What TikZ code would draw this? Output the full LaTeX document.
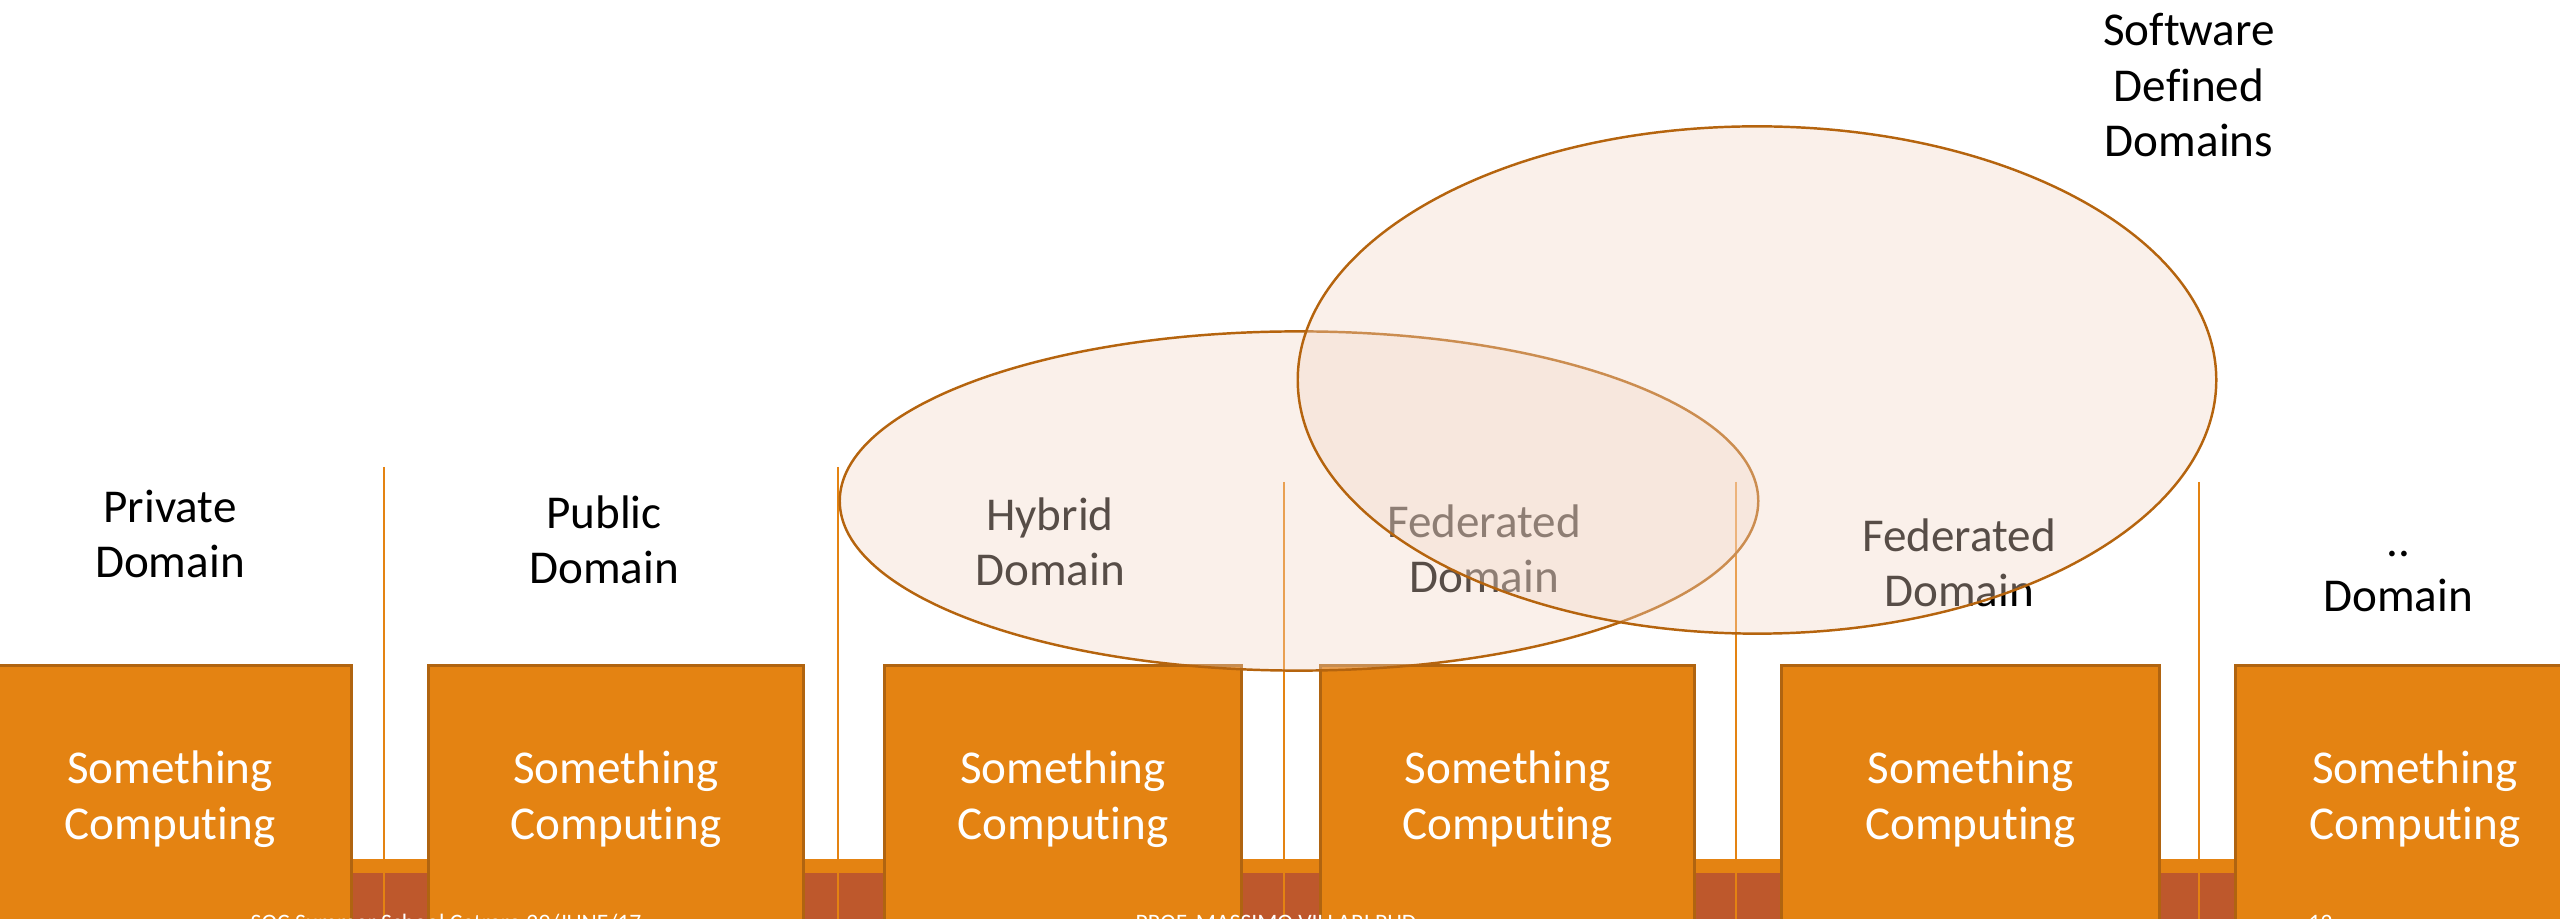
\documentclass[tikz,border=0pt]{standalone}
\usepackage{fontspec}
\setmainfont{Carlito}[RawFeature=-liga]
\usetikzlibrary{shapes.geometric}
\definecolor{boxfill}{RGB}{228,131,18}
\definecolor{boxedge}{RGB}{176,100,16}
\definecolor{bandlow}{RGB}{190,88,44}
\definecolor{ringedge}{RGB}{181,100,14}
\definecolor{ringfill}{RGB}{242,214,198}
\begin{document}
\begin{tikzpicture}[x=0.01cm,y=-0.01cm,
  compbox/.style={draw=boxedge, line width=0.85pt, fill=boxfill, text=white, align=center,
    font=\fontsize{13.4}{15.9}\selectfont, minimum height=2.66cm, inner sep=0pt},
  domlabel/.style={anchor=base, align=center, inner sep=0pt, font=\fontsize{13.4}{15.9}\selectfont},
  divider/.style={draw=boxfill, line width=0.8pt},
  ring/.style={ellipse, draw=ringedge, line width=0.7pt, fill=ringfill, fill opacity=0.36, inner sep=0pt},
  footer/.style={anchor=base west, text=white, inner sep=0pt, font=\fontsize{6.7}{8}\selectfont}]
\useasboundingbox (0,0) rectangle (2560,919);
\clip (0,0) rectangle (2560,919);

% connecting band along the bottom
\fill[bandlow] (0,859) rectangle (2560,919);
\fill[boxfill] (0,859) rectangle (2560,873);

% dividers between the domains
\foreach \i/\x/\t in {1/384/467, 2/838/467, 3/1284/482, 4/1736/482, 5/2199/482} {
  \coordinate (d\i t) at (\x,\t);
  \coordinate (d\i b) at (\x,919);
  \draw[divider] (d\i t) -- (d\i b);
}

% computing blocks
\node[compbox, minimum width=3.62cm] (c1) at (170,799)    {Something\\Computing};
\node[compbox, minimum width=3.74cm] (c2) at (616,799)    {Something\\Computing};
\node[compbox, minimum width=3.56cm] (c3) at (1063,799)   {Something\\Computing};
\node[compbox, minimum width=3.73cm] (c4) at (1507.5,799) {Something\\Computing};
\node[compbox, minimum width=3.77cm] (c5) at (1970.5,799) {Something\\Computing};
\node[compbox, minimum width=3.58cm] (c6) at (2415,799)   {Something\\Computing};

% domain labels (anchored on the baseline of their last line)
\node[domlabel] (lpriv) at (170,578)  {Private\\Domain};
\node[domlabel] (lpub)  at (604,584)  {Public\\Domain};
\node[domlabel] (lhyb)  at (1050,586) {Hybrid\\Domain};
\node[domlabel] (lfedA) at (1484,593) {Federated\\Domain};
\node[domlabel] (lfedB) at (1959,607) {Federated\\Domain};
\node[domlabel] (ldots) at (2398,612) {..\\Domain};
\node[domlabel] (lsdd)  at (2189,157) {Software\\Defined\\Domains};

% translucent groupings
\node[ring, minimum width=9.18cm, minimum height=3.39cm] (hyb) at (1299,501) {};
\node[ring, minimum width=9.18cm, minimum height=5.07cm] (sdd) at (1757,380) {};

% slide footer, cut by the lower edge
\node[footer] (f1) at (250,930)  {SOC Summer School Cetraro 29/JUNE/17};
\node[footer] (f2) at (1135,930) {PROF. MASSIMO VILLARI PHD};
\node[footer] (f3) at (2308,930) {12};
\end{tikzpicture}
\end{document}
